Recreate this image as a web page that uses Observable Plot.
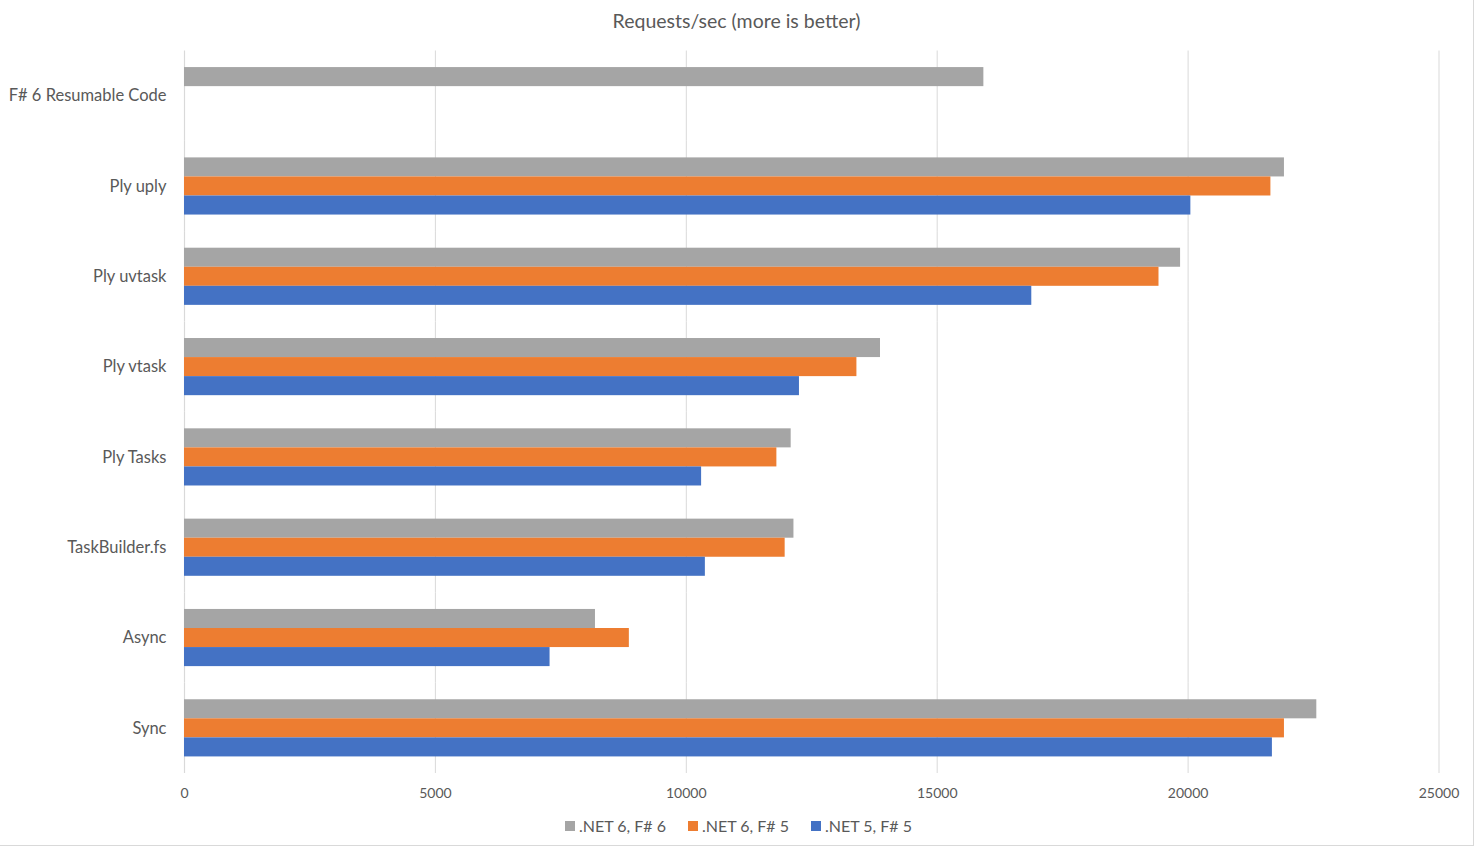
<!DOCTYPE html>
<html>
<head>
<meta charset="utf-8">
<script src="https://cdn.jsdelivr.net/npm/d3@7"></script>
<script src="https://cdn.jsdelivr.net/npm/@observablehq/plot@0.6"></script>
<style>
  html, body { margin: 0; padding: 0; background: #fff; }
  #frame { position: relative; width: 1473px; height: 845px; border-right: 1px solid #d9d9d9; border-bottom: 1px solid #d9d9d9; box-sizing: content-box; font-family: Lato, "Open Sans", sans-serif; color: #595959; }
  #title { height: 40px; line-height: 42px; text-align: center; font-size: 19.5px; overflow: hidden; }
  #chart { height: 768px; }
  #chart svg { display: block; }
  #legend { display: flex; justify-content: center; gap: 22px; font-size: 16px; margin-top: 8px; margin-left: 4px; }
  #legend span.item { display: inline-flex; align-items: center; }
  #legend span.sw { width: 10px; height: 10px; display: inline-block; margin-right: 4px; }
</style>
</head>
<body>
<div id="frame">
  <div id="title">Requests/sec (more is better)</div>
  <div id="chart"></div>
  <div id="legend"></div>
</div>
<script>
const categories = ["F# 6 Resumable Code", "Ply uply", "Ply uvtask", "Ply vtask", "Ply Tasks", "TaskBuilder.fs", "Async", "Sync"];
const seriesNames = [".NET 6, F# 6", ".NET 6, F# 5", ".NET 5, F# 5"];
const seriesColors = ["#A5A5A5", "#ED7D31", "#4472C4"];
const net6fs6 = [15930, 21920, 19850, 13870, 12090, 12145, 8190, 22565];
const net6fs5 = [null, 21650, 19420, 13400, 11805, 11970, 8865, 21920];
const net5fs5 = [null, 20055, 16885, 12255, 10305, 10380, 7285, 21680];
const xTicks = [0, 5000, 10000, 15000, 20000, 25000];

const rows = [];
[net6fs6, net6fs5, net5fs5].forEach((vals, si) => {
  vals.forEach((v, ci) => {
    if (v != null) rows.push({category: categories[ci], series: seriesNames[si], value: v});
  });
});

const chart = Plot.plot({
  width: 1473,
  height: 768,
  marginLeft: 184,
  marginRight: 34.5,
  marginTop: 10.5,
  marginBottom: 35,
  style: {fontFamily: "Lato, 'Open Sans', sans-serif", color: "#595959", background: "transparent"},
  x: {domain: [0, 25000], ticks: xTicks, tickFormat: "d", tickSize: 0, tickPadding: 14, label: null, grid: false},
  fy: {domain: categories, padding: 0, round: false, label: null, axis: null},
  y: {domain: seriesNames, paddingInner: 0, paddingOuter: 0.87, round: false, axis: null},
  color: {domain: seriesNames, range: seriesColors},
  marks: [
    Plot.ruleX(xTicks.slice(1), {stroke: "#d9d9d9", strokeWidth: 1, strokeOpacity: 1}),
    Plot.ruleX([0], {stroke: "#d9d9d9", strokeWidth: 1.2, strokeOpacity: 1}),
    Plot.barX(rows, {fy: "category", y: "series", x: "value", fill: "series"}),
    Plot.axisFy({anchor: "left", tickSize: 0, tickPadding: 18, fontSize: 16.5, label: null}),
    Plot.axisX({ticks: xTicks, tickFormat: "d", tickSize: 0, tickPadding: 15, fontSize: 14, label: null})
  ]
});
document.getElementById("chart").appendChild(chart);

const legend = document.getElementById("legend");
seriesNames.forEach((name, i) => {
  const item = document.createElement("span");
  item.className = "item";
  const sw = document.createElement("span");
  sw.className = "sw";
  sw.style.background = seriesColors[i];
  item.appendChild(sw);
  item.appendChild(document.createTextNode(name));
  legend.appendChild(item);
});
</script>
</body>
</html>
